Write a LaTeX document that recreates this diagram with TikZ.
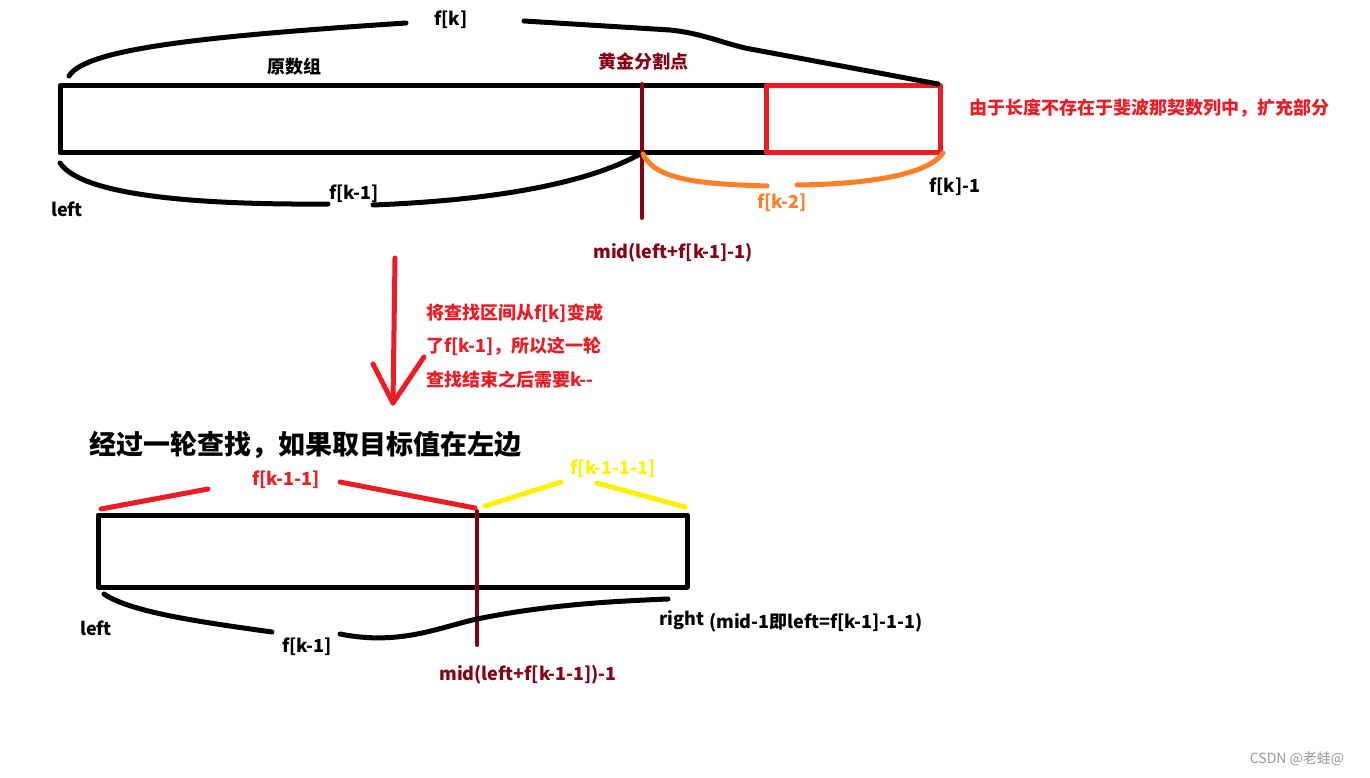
\documentclass[tikz,border=0pt]{standalone}
\usepackage{fontspec}
\setmainfont{Noto Sans CJK SC}
\definecolor{pdark}{HTML}{880015}
\definecolor{pred}{HTML}{ED1C24}
\definecolor{porange}{HTML}{FF7F27}
\definecolor{pyellow}{HTML}{FFF200}
\begin{document}
\begin{tikzpicture}[x=1pt,y=-1pt,line cap=round,line join=round,
  thick5/.style={line width=5pt},
  lbl/.style={font=\fontsize{18}{20}\selectfont\bfseries,inner sep=0pt},
  biglbl/.style={font=\fontsize{27}{30}\selectfont\bfseries,inner sep=0pt}]
\useasboundingbox[fill=white] (0,0) rectangle (1370,778);

% ---------- top array ----------
\coordinate (tl) at (60,86);
\coordinate (tg) at (766,86);
\coordinate (tr) at (940,86);
\coordinate (bl) at (60,153);
\coordinate (bg) at (766,153);
\coordinate (br) at (940,153);
\draw[thick5,black,line cap=butt] (tg) -- (tl) -- (bl) -- (bg);
\draw[thick5,pred,line cap=butt] (tg) rectangle (br);
\coordinate (mtop) at (642,84);
\coordinate (mbot) at (642,218);
\draw[line width=4pt,pdark] (mtop) -- (mbot);

% top brace f[k]
\draw[thick5] (69,76) .. controls (86,48) and (210,36) .. (406,23);
\draw[thick5] (524,21) -- (670,30) .. controls (700,33) and (720,42) .. (745,48) -- (938,84);
% bottom-left brace f[k-1]
\draw[thick5] (60,163) .. controls (82,196) and (200,205) .. (328,204);
\draw[thick5] (373,205) .. controls (500,200) and (590,182) .. (640,154);
% orange brace f[k-2]
\draw[thick5,porange] (643,154) .. controls (655,180) and (700,184) .. (767,186);
\draw[thick5,porange] (797,185) .. controls (880,184) and (930,172) .. (943,153);

\node[lbl] (fk) at (451,20) {f[k]};
\node[lbl] (orig) at (294,67) {原数组};
\node[lbl,text=pdark] (gold) at (643,62) {黄金分割点};
\node[lbl,text=pred,anchor=west] (ext) at (969,108) {由于长度不存在于斐波那契数列中，扩充部分};
\node[lbl] (left1) at (67,209) {left};
\node[lbl] (fk1) at (354,194) {f[k-1]};
\node[lbl,text=porange] (fk2) at (782,203) {f[k-2]};
\node[lbl] (fkm1) at (955,187) {f[k]-1};
\node[lbl,text=pdark] (mid1) at (673,253) {mid(left+f[k-1]-1)};

% ---------- arrow ----------
\coordinate (as) at (395,258);
\coordinate (ae) at (393,403);
\draw[thick5,pred] (as) -- (ae);
\draw[thick5,pred] (373,364) -- (ae) -- (424,357);
\node[lbl,text=pred,anchor=west] (n1) at (426,313) {将查找区间从f[k]变成};
\node[lbl,text=pred,anchor=west] (n2) at (426,346) {了f[k-1]，所以这一轮};
\node[lbl,text=pred,anchor=west] (n3) at (426,380) {查找结束之后需要k-{}-};

% ---------- bottom array ----------
\node[biglbl,anchor=west] (title) at (89,445) {经过一轮查找，如果取目标值在左边};
\coordinate (b2tl) at (98,515);
\coordinate (b2br) at (687,587);
\draw[thick5,line cap=butt] (b2tl) rectangle (b2br);
\coordinate (m2top) at (477,511);
\coordinate (m2bot) at (477,645);
\draw[line width=4pt,pdark] (m2top) -- (m2bot);

% red brace
\draw[thick5,pred] (101,509) -- (208,489);
\draw[thick5,pred] (340,482) -- (475,508);
% yellow brace
\draw[thick5,pyellow] (485,506) -- (561,482);
\draw[thick5,pyellow] (597,483) -- (685,507);
% bottom brace
\draw[thick5] (104,594) .. controls (130,612) and (200,622) .. (272,632);
\draw[thick5] (340,634) .. controls (400,646) and (440,627) .. (477,619) .. controls (550,604) and (620,601) .. (668,599);

\node[lbl,text=pred] (fk11) at (286,480) {f[k-1-1]};
\node[lbl,text=pyellow] (fk111) at (613,469) {f[k-1-1-1]};
\node[lbl] (left2) at (96,628) {left};
\node[lbl] (fk1b) at (307,647) {f[k-1]};
\node[lbl,anchor=west] (right) at (659,620) {right};
\node[lbl,anchor=west] (rnote) at (709,623) {(mid-1即left=f[k-1]-1-1)};
\node[lbl,text=pdark] (mid2) at (528,675) {mid(left+f[k-1-1])-1};

\node[inner sep=0pt,text=black!40,font=\fontsize{14}{16}\selectfont] (wm) at (1297,759) {CSDN @老蛙@};
\end{tikzpicture}
\end{document}
